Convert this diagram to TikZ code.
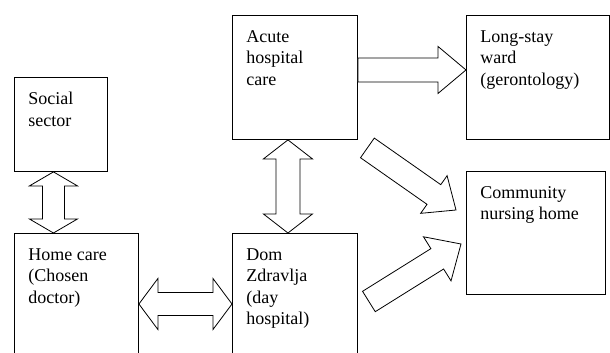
\documentclass[tikz,border=0pt]{standalone}
\usepackage{fontspec}
\setmainfont{Liberation Serif}
\usepackage{tikz}
\usetikzlibrary{calc}

% text block inside a box: width, height, text
\newcommand{\celltext}[3]{\parbox[t][#2][t]{#1}{\raggedright #3}}

% single fat arrow: from, to, shaft half width, head half width, head length
\newcommand{\fatarrow}[5]{%
  \coordinate (fa-h) at ($(#2)!#5!(#1)$);
  \draw[arrowline] ($(#1)!#3!90:(#2)$) -- ($(fa-h)!#3!90:(#2)$) -- ($(fa-h)!#4!90:(#2)$)
    -- (#2) -- ($(fa-h)!#4!-90:(#2)$) -- ($(fa-h)!#3!-90:(#2)$) -- ($(#1)!#3!-90:(#2)$) -- cycle;}

% double fat arrow: same arguments
\newcommand{\dblarrow}[5]{%
  \coordinate (da-a) at ($(#1)!#5!(#2)$);
  \coordinate (da-b) at ($(#2)!#5!(#1)$);
  \draw[arrowline] (#1) -- ($(da-a)!#4!90:(#2)$) -- ($(da-a)!#3!90:(#2)$) -- ($(da-b)!#3!90:(#2)$)
    -- ($(da-b)!#4!90:(#2)$) -- (#2) -- ($(da-b)!#4!-90:(#2)$) -- ($(da-b)!#3!-90:(#2)$)
    -- ($(da-a)!#3!-90:(#2)$) -- ($(da-a)!#4!-90:(#2)$) -- cycle;}

\tikzset{
  cell/.style={draw, line width=0.9pt, anchor=north west, inner xsep=14pt, inner ysep=15pt,
    font=\fontsize{18}{21.5}\selectfont},
  arrowline/.style={draw, line width=0.8pt, fill=white, line join=miter}
}

\begin{document}
\begin{tikzpicture}[x=1pt,y=-1pt]

        \useasboundingbox (0,0) rectangle (610,353);
        \clip (0,0) rectangle (610,353);

        % Boxes (home care and Dom Zdravlja run off the bottom edge)
        \node[cell] (social)    at (14,77)  {\celltext{65pt}{64pt}{Social\\sector}};
        \node[cell] (acute)     at (232,15) {\celltext{97pt}{94pt}{Acute\\hospital\\care}};
        \node[cell] (longstay)  at (466,15) {\celltext{115pt}{94pt}{Long-stay\\ward\\(gerontology)}};
        \node[cell] (community) at (466,171){\celltext{111pt}{93pt}{Community\\nursing home}};
        \node[cell] (home)      at (14,233) {\celltext{96pt}{140pt}{Home care\\(Chosen\\doctor)}};
        \node[cell] (dom)       at (232,233){\celltext{97pt}{140pt}{Dom\\Zdravlja\\(day\\hospital)}};

        % End points of the arrows
        \coordinate (a1) at ([xshift=-7.5pt]social.south);
        \coordinate (b1) at (a1 |- home.north);
        \coordinate (a2) at ([xshift=-7pt]acute.south);
        \coordinate (b2) at (a2 |- dom.north);
        \coordinate (a3) at ([yshift=-71pt]home.north east);
        \coordinate (b3) at (a3 -| dom.west);
        \coordinate (a4) at ([yshift=7.5pt]acute.east);
        \coordinate (b4) at (a4 -| longstay.west);
        \coordinate (a5) at ([xshift=9.5pt,yshift=-8pt]acute.south east);
        \coordinate (b5) at ([xshift=-10pt,yshift=-39pt]community.north west);
        \coordinate (a6) at ([xshift=11pt,yshift=-68.5pt]dom.north east);
        \coordinate (b6) at ([xshift=-5pt,yshift=-73pt]community.north west);

        % Two-way arrows
        \dblarrow{a1}{b1}{11pt}{24pt}{14pt}
        \dblarrow{a2}{b2}{12pt}{24.5pt}{19pt}
        \dblarrow{a3}{b3}{11.5pt}{25.5pt}{19pt}

        % One-way arrows
        \fatarrow{a4}{b4}{12pt}{23.5pt}{28pt}
        \fatarrow{a5}{b5}{12pt}{23pt}{27pt}
        \fatarrow{a6}{b6}{12pt}{26pt}{28pt}

\end{tikzpicture}
\end{document}
